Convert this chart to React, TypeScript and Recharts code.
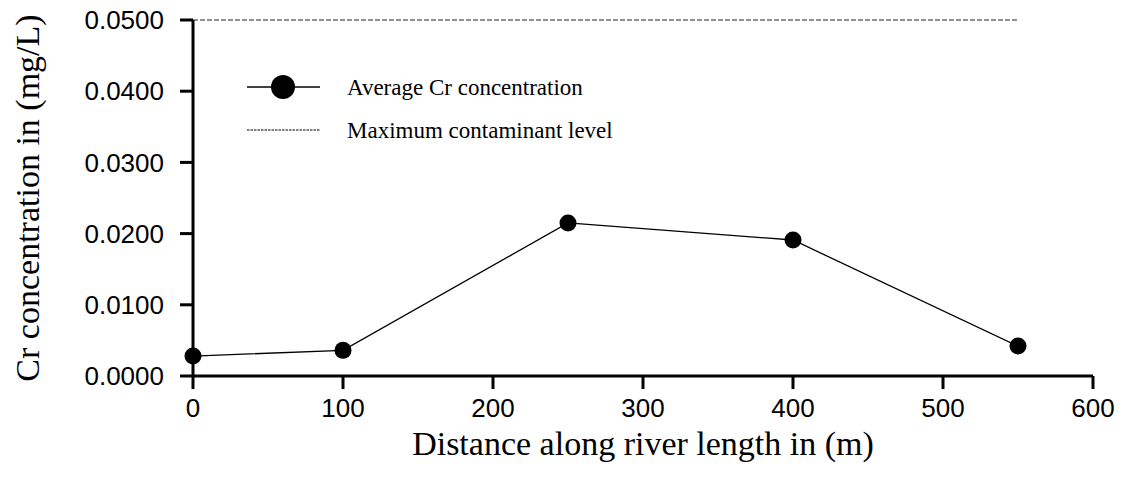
import { CartesianGrid, Legend, Line, LineChart, XAxis, YAxis } from "recharts";

// values
const DISTANCES = [0, 100, 250, 400, 550];
const AVG_CR = [0.0028, 0.0036, 0.0215, 0.0191, 0.0042];
const MCL = 0.05;
const X_TICKS = [0, 100, 200, 300, 400, 500, 600];
const Y_TICKS = [0, 0.01, 0.02, 0.03, 0.04, 0.05];

const rows = DISTANCES.map((d, i) => ({ distance: d, avg: AVG_CR[i], mcl: MCL }));

const SANS = "'Liberation Sans', Arial, sans-serif";
const SERIF = "'Liberation Serif', 'Times New Roman', serif";

function ChartLegend({ payload }: { payload?: any[] }) {
  if (!payload) return null;
  return (
    <svg width={640} height={160}>
      {payload.map((item, i) => {
        const y = 87 + i * 43;
        const dashed = item.dataKey === "mcl";
        return (
          <g key={item.value}>
            <line
              x1={247}
              x2={320}
              y1={y}
              y2={y}
              stroke="#000"
              strokeWidth={dashed ? 1 : 1.3}
              strokeDasharray={dashed ? "2.5 1" : undefined}
            />
            {!dashed && <circle cx={283} cy={y} r={12} fill="#000" />}
            <text x={347} y={y + 8} fontFamily={SERIF} fontSize={23} fill="#000">
              {item.value}
            </text>
          </g>
        );
      })}
    </svg>
  );
}

export default function App() {
  return (
    <div style={{ position: "absolute", left: 0, top: 0 }}>
      <LineChart
        width={1122}
        height={477}
        data={rows}
        margin={{ top: 20, right: 29, left: 0, bottom: 0 }}
      >
        <CartesianGrid stroke="none" />
        <XAxis
          dataKey="distance"
          type="number"
          domain={[0, 600]}
          ticks={X_TICKS}
          height={101}
          stroke="#000"
          axisLine={{ stroke: "#000", strokeWidth: 3 }}
          tickLine={{ stroke: "#000", strokeWidth: 3 }}
          tickSize={13}
          tickMargin={10}
          tick={{ fill: "#000", fontSize: 26, fontFamily: SANS }}
          label={{
            value: "Distance along river length in (m)",
            position: "insideBottom",
            offset: 22,
            style: { fontFamily: SERIF, fontSize: 34, fill: "#000" },
          }}
        />
        <YAxis
          type="number"
          domain={[0, 0.05]}
          ticks={Y_TICKS}
          width={193}
          stroke="#000"
          axisLine={{ stroke: "#000", strokeWidth: 3 }}
          tickLine={{ stroke: "#000", strokeWidth: 3 }}
          tickSize={13}
          tickMargin={16}
          tickFormatter={(v: number) => v.toFixed(4)}
          tick={{ fill: "#000", fontSize: 26, fontFamily: SANS }}
          label={{
            value: "Cr concentration in (mg/L)",
            angle: -90,
            position: "insideLeft",
            offset: 27,
            style: { textAnchor: "middle", fontFamily: SERIF, fontSize: 34, fill: "#000" },
          }}
        />
        <Legend
          layout="horizontal"
          verticalAlign="middle"
          align="center"
          wrapperStyle={{ left: 0, top: 0, width: 640, height: 160 }}
          content={<ChartLegend />}
        />
        <Line
          dataKey="avg"
          name="Average Cr concentration"
          type="linear"
          stroke="#000"
          strokeWidth={1.3}
          dot={{ r: 8.5, fill: "#000", stroke: "#000", strokeWidth: 0 }}
          activeDot={false}
          isAnimationActive={false}
        />
        <Line
          dataKey="mcl"
          name="Maximum contaminant level"
          type="linear"
          stroke="#222"
          strokeWidth={1}
          strokeDasharray="5 2"
          dot={false}
          activeDot={false}
          isAnimationActive={false}
        />
      </LineChart>
    </div>
  );
}
